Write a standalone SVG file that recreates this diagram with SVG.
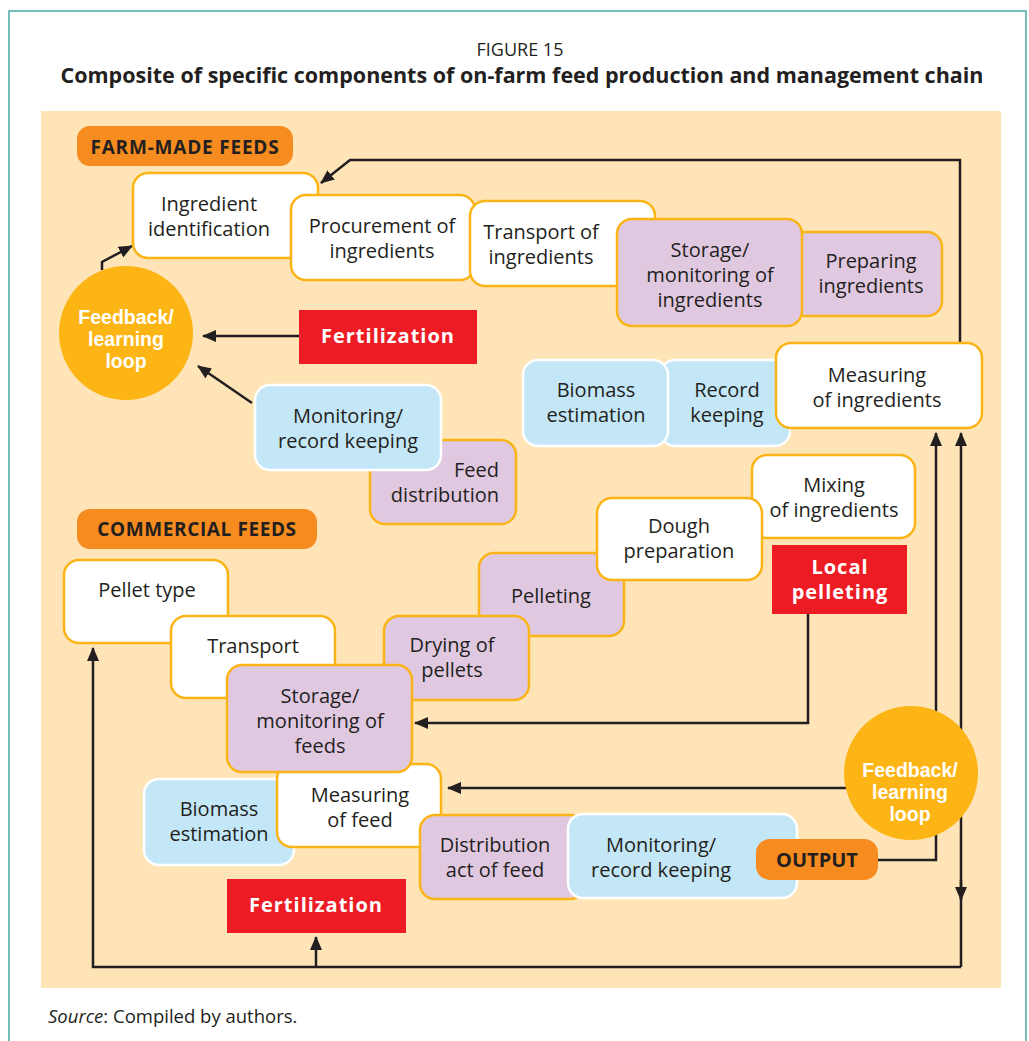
<svg xmlns="http://www.w3.org/2000/svg" width="1029" height="1041" viewBox="0 0 1029 1041">
<style>
.t{font-family:"Open Sans","Noto Sans","DejaVu Sans",sans-serif;font-size:20px;fill:#231f20;text-anchor:middle}
.wb{font-family:"Open Sans","Noto Sans","DejaVu Sans",sans-serif;font-size:20px;font-weight:bold;fill:#ffffff;text-anchor:middle;letter-spacing:1px}
.cl{font-family:"Liberation Sans","Open Sans",sans-serif;font-size:19.5px;font-weight:bold;fill:#ffffff;text-anchor:middle}
.hb{font-family:"Open Sans","Noto Sans","DejaVu Sans",sans-serif;font-size:19px;font-weight:bold;fill:#231f20;text-anchor:middle}
.w{fill:#ffffff;stroke:#fbb416;stroke-width:2.5}
.p{fill:#e0c9e0;stroke:#fbb416;stroke-width:2.5}
.b{fill:#c4e7f8;stroke:#ffffff;stroke-width:2.5}
.r{fill:#ed1c24}
.o{fill:#f68b1f}
.c{fill:#fdb515}
.ln{fill:none;stroke:#231f20;stroke-width:2.5}
</style>
<defs>
<marker id="ah" viewBox="0 0 14 12" refX="13" refY="6" markerWidth="14" markerHeight="12" markerUnits="userSpaceOnUse" orient="auto">
<path d="M0,0 L14,6 L0,12 z" fill="#231f20"/>
</marker>
</defs>
<rect x="9" y="11" width="1017" height="1045" fill="#ffffff" stroke="#4aa8a5" stroke-width="1.5"/>
<text x="520" y="56" class="t" style="font-size:18px">FIGURE 15</text>
<text x="522" y="83" class="hb" style="font-size:21.5px">Composite of specific components of on-farm feed production and management chain</text>
<rect x="41" y="111" width="960" height="877" fill="#fee4b7"/>
<text x="48" y="1023" class="t" style="font-size:18.5px;text-anchor:start"><tspan font-style="italic">Source</tspan>: Compiled by authors.</text>

<g id="connectors">
<path class="ln" d="M960,343 V160 H350 L321,183" marker-end="url(#ah)"/>
<path class="ln" d="M102,270 V262 L132,246" marker-end="url(#ah)"/>
<path class="ln" d="M299,336 H203" marker-end="url(#ah)"/>
<path class="ln" d="M252,403 L198,366" marker-end="url(#ah)"/>
<path class="ln" d="M808,614 V723 H415" marker-end="url(#ah)"/>
<path class="ln" d="M846,788 H448" marker-end="url(#ah)"/>
<path class="ln" d="M878,860 H936 V433" marker-end="url(#ah)"/>
<path class="ln" d="M961,967 V433" marker-end="url(#ah)"/>
<path class="ln" d="M961,880 V900" marker-end="url(#ah)"/>
<path class="ln" d="M961,967 H93 V648" marker-end="url(#ah)"/>
<path class="ln" d="M316,967 V937" marker-end="url(#ah)"/>
</g>

<g id="farm-made-feeds">
<rect class="o" x="77" y="126" width="216" height="40" rx="13"/>
<text x="185" y="154" class="hb" style="letter-spacing:0.8px">FARM-MADE FEEDS</text>
</g>
<g id="ingredient-identification">
<rect class="w" x="133" y="173" width="185" height="85" rx="15"/>
<text class="t" x="209" y="211">Ingredient</text><text class="t" x="209" y="236">identification</text>
</g>
<g id="procurement">
<rect class="w" x="291" y="195" width="184" height="85" rx="15"/>
<text class="t" x="382" y="233">Procurement of</text><text class="t" x="382" y="258">ingredients</text>
</g>
<g id="transport-ingredients">
<rect class="w" x="470" y="201" width="185" height="85" rx="15"/>
<text class="t" x="541" y="239">Transport of</text><text class="t" x="541" y="264">ingredients</text>
</g>
<g id="preparing">
<rect class="p" x="790" y="232" width="152" height="84" rx="15"/>
<text class="t" x="871" y="268">Preparing</text><text class="t" x="871" y="293">ingredients</text>
</g>
<g id="storage-ingredients">
<rect class="p" x="617" y="219" width="185" height="107" rx="15"/>
<text class="t" x="710" y="257">Storage/</text><text class="t" x="710" y="282">monitoring of</text><text class="t" x="710" y="307">ingredients</text>
</g>
<g id="feedback-left">
<circle class="c" cx="126" cy="333" r="67"/>
<text class="cl" x="126" y="324">Feedback/</text><text class="cl" x="126" y="346">learning</text><text class="cl" x="126" y="368">loop</text>
</g>
<g id="fertilization-top">
<rect class="r" x="299" y="310" width="178" height="54"/>
<text class="wb" x="388" y="343">Fertilization</text>
</g>
<g id="record-keeping">
<rect class="b" x="660" y="360" width="130" height="86" rx="15"/>
<text class="t" x="727" y="397">Record</text><text class="t" x="727" y="422">keeping</text>
</g>
<g id="biomass-top">
<rect class="b" x="523" y="360" width="145" height="86" rx="15"/>
<text class="t" x="596" y="397">Biomass</text><text class="t" x="596" y="422">estimation</text>
</g>
<g id="measuring-ingredients">
<rect class="w" x="776" y="343" width="206" height="85" rx="15"/>
<text class="t" x="877" y="382">Measuring</text><text class="t" x="877" y="407">of ingredients</text>
</g>
<g id="feed-distribution">
<rect class="p" x="370" y="440" width="146" height="84" rx="15"/>
<text class="t" x="499" y="477" style="text-anchor:end">Feed</text><text class="t" x="499" y="502" style="text-anchor:end">distribution</text>
</g>
<g id="monitoring-top">
<rect class="b" x="255" y="385" width="186" height="85" rx="15"/>
<text class="t" x="348" y="423">Monitoring/</text><text class="t" x="348" y="448">record keeping</text>
</g>

<g id="commercial-feeds">
<rect class="o" x="77" y="509" width="240" height="40" rx="13"/>
<text x="197" y="536" class="hb" style="letter-spacing:0.6px">COMMERCIAL FEEDS</text>
</g>
<g id="mixing">
<rect class="w" x="752" y="455" width="163" height="83" rx="15"/>
<text class="t" x="834" y="492">Mixing</text><text class="t" x="834" y="517">of ingredients</text>
</g>
<g id="pelleting">
<rect class="p" x="479" y="553" width="145" height="83" rx="15"/>
<text class="t" x="551" y="603">Pelleting</text>
</g>
<g id="dough">
<rect class="w" x="597" y="498" width="165" height="82" rx="15"/>
<text class="t" x="679" y="533">Dough</text><text class="t" x="679" y="558">preparation</text>
</g>
<g id="drying">
<rect class="p" x="384" y="616" width="145" height="84" rx="15"/>
<text class="t" x="452" y="652">Drying of</text><text class="t" x="452" y="677">pellets</text>
</g>
<g id="local-pelleting">
<rect class="r" x="772" y="545" width="135" height="69"/>
<text class="wb" x="840" y="574">Local</text><text class="wb" x="840" y="599">pelleting</text>
</g>
<g id="pellet-type">
<rect class="w" x="64" y="560" width="164" height="83" rx="15"/>
<text class="t" x="147" y="597">Pellet type</text>
</g>
<g id="transport">
<rect class="w" x="171" y="616" width="164" height="82" rx="15"/>
<text class="t" x="253" y="653">Transport</text>
</g>
<g id="biomass-bottom">
<rect class="b" x="144" y="779" width="150" height="86" rx="15"/>
<text class="t" x="219" y="816">Biomass</text><text class="t" x="219" y="841">estimation</text>
</g>
<g id="measuring-feed">
<rect class="w" x="277" y="764" width="164" height="83" rx="15"/>
<text class="t" x="360" y="802">Measuring</text><text class="t" x="360" y="827">of feed</text>
</g>
<g id="storage-feeds">
<rect class="p" x="227" y="665" width="185" height="107" rx="15"/>
<text class="t" x="320" y="703">Storage/</text><text class="t" x="320" y="728">monitoring of</text><text class="t" x="320" y="753">feeds</text>
</g>
<g id="distribution-act">
<rect class="p" x="420" y="815" width="165" height="84" rx="15"/>
<text class="t" x="495" y="852">Distribution</text><text class="t" x="495" y="877">act of feed</text>
</g>
<g id="monitoring-bottom">
<rect class="b" x="568" y="814" width="229" height="84" rx="15"/>
<text class="t" x="661" y="852">Monitoring/</text><text class="t" x="661" y="877">record keeping</text>
</g>
<g id="output">
<rect class="o" x="756" y="839" width="122" height="41" rx="14"/>
<text x="817" y="867" class="hb" style="font-size:20px">OUTPUT</text>
</g>
<g id="feedback-right">
<circle class="c" cx="911" cy="773" r="67"/>
<text class="cl" x="910" y="777">Feedback/</text><text class="cl" x="910" y="799">learning</text><text class="cl" x="910" y="821">loop</text>
</g>
<g id="fertilization-bottom">
<rect class="r" x="227" y="879" width="179" height="54"/>
<text class="wb" x="316" y="912">Fertilization</text>
</g>
</svg>
